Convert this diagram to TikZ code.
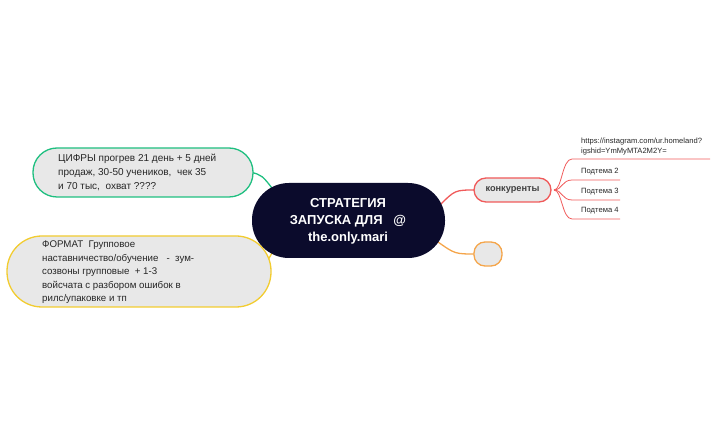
\documentclass[tikz,border=0pt]{standalone}
\usepackage{fontspec}
\setmainfont{Liberation Sans}
\begin{document}
\begin{tikzpicture}[x=1pt,y=-1pt,
  pill/.style={rounded corners=#1, line width=1.3pt, fill=gray!18},
  txt/.style={align=left, anchor=north west, inner sep=0, text=black!85},
  small/.style={font=\fontsize{7.6}{9.5}\selectfont, align=left, anchor=south west, inner sep=1pt, text=black!85},
  conn/.style={line width=1.3pt}]
\definecolor{navy}{HTML}{0B0B2C}
\definecolor{grn}{HTML}{1FBF80}
\definecolor{ylw}{HTML}{F2CC30}
\definecolor{rd}{HTML}{F05A5A}
\definecolor{org}{HTML}{F5A54A}
\useasboundingbox (0,0) rectangle (715,443);
% connectors
\draw[conn,grn] (275,192) .. controls (262,175) .. (250,172);
\draw[conn,ylw] (275,248) .. controls (262,270) .. (268,272);
\draw[conn,rd] (440,205) .. controls (455,190) .. (476,190);
\draw[conn,org] (438,242) .. controls (455,254) .. (476,254);
% central
\fill[navy,rounded corners=37pt] (252,183) rectangle (445,258);
\node[text=white,font=\fontsize{13}{17}\selectfont\bfseries,align=center] (c) at (348,221) {СТРАТЕГИЯ\\ЗАПУСКА ДЛЯ \ \ @\\the.only.mari};
% green
\draw[pill=24pt,draw=grn] (33,148) rectangle (253,197);
\node[txt,font=\fontsize{10}{14}\selectfont] (g) at (58,154) {ЦИФРЫ прогрев 21 день + 5 дней\\продаж, 30-50 учеников, \ чек 35\\и 70 тыс, \ охват ????};
% yellow
\draw[pill=35pt,draw=ylw] (7,236) rectangle (271,307);
\node[txt,font=\fontsize{9.7}{13.5}\selectfont] (y) at (42,241) {ФОРМАТ \ Групповое\\наставничество/обучение \ \ - \ зум-\\созвоны групповые \ + 1-3\\войсчата с разбором ошибок в\\рилс/упаковке и тп};
% konkurenty
\draw[pill=12pt,draw=rd] (474,178) rectangle (551,202);
\node[font=\fontsize{9.2}{11}\selectfont\bfseries, text=black!75] (k) at (512.5,190) {конкуренты};
% empty orange
\draw[pill=11pt,draw=org] (474,242) rectangle (502,266);
% subtopics
\coordinate (s) at (554,190);
\foreach \yy/\xe in {159/710,180/620,200/620,219/620}{
  \draw[rd,line width=0.8pt] (s) .. controls (562,190) and (562,\yy) .. (572,\yy) -- (\xe,\yy);
}
\node[small] (t1) at (580,156) {https://instagram.com/ur.homeland?\\igshid=YmMyMTA2M2Y=};
\node[small] (t2) at (580,176) {Подтема 2};
\node[small] (t3) at (580,196) {Подтема 3};
\node[small] (t4) at (580,215) {Подтема 4};
\end{tikzpicture}
\end{document}
